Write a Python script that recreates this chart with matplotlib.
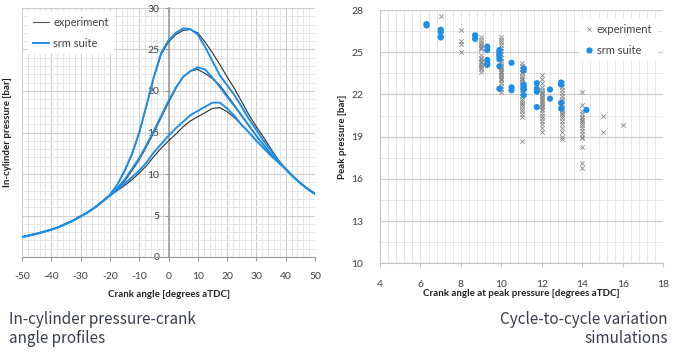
import matplotlib
matplotlib.use("Agg")
import matplotlib.pyplot as plt
from matplotlib.lines import Line2D
import numpy as np

plt.rcParams['axes.unicode_minus'] = False
plt.rcParams['font.family'] = ['Lato', 'DejaVu Sans']

# ---------------- data: left panel (pressure traces) ----------------
crank_angle = [-50, -47.5, -45, -42.5, -40, -37.5, -35, -32.5, -30, -27.5, -25, -22.5, -20,
               -17.5, -15, -12.5, -10, -7.5, -5, -2.5, 0, 2.5, 5, 7.5, 10, 12.5, 15, 17.5,
               20, 22.5, 25, 27.5, 30, 32.5, 35, 37.5, 40, 42.5, 45, 47.5, 50]

pre = [2.4, 2.6, 2.8, 3.05, 3.3, 3.6, 4.0, 4.4, 4.9, 5.4, 6.0, 6.7]
post = [10.6, 9.7, 8.9, 8.2, 7.6]

exp_high = pre + [7.5, 8.7, 10.3, 12.3, 14.9, 18.2, 21.6, 24.4, 25.9, 26.8, 27.3, 27.4, 27.0,
                  25.9, 24.6, 23.2, 21.7, 20.3, 18.7, 17.1, 15.7, 14.4, 13.0, 11.7] + post
sim_high = pre + [7.5, 8.7, 10.4, 12.4, 15.0, 18.3, 21.7, 24.6, 26.1, 27.0, 27.55, 27.45, 26.8,
                  25.3, 23.6, 21.9, 20.7, 19.5, 18.1, 16.6, 15.3, 14.0, 12.8, 11.6] + post
exp_mid = pre + [7.4, 8.2, 9.1, 10.4, 11.7, 13.3, 15.0, 16.8, 18.6, 20.3, 21.7, 22.4, 22.6,
                 22.1, 21.5, 20.7, 19.5, 18.3, 17.0, 15.8, 14.6, 13.5, 12.4, 11.5] + post
sim_mid = pre + [7.4, 8.3, 9.3, 10.6, 11.9, 13.5, 15.2, 17.0, 18.8, 20.4, 21.7, 22.4, 22.85,
                 22.6, 21.6, 20.5, 19.3, 18.2, 17.0, 15.8, 14.6, 13.5, 12.4, 11.5] + post
exp_low = pre + [7.4, 8.0, 8.6, 9.3, 10.1, 11.0, 12.1, 13.1, 14.0, 14.8, 15.7, 16.4, 16.9,
                 17.4, 17.9, 18.0, 17.5, 16.8, 15.9, 15.0, 14.0, 13.1, 12.2, 11.4] + post
sim_low = pre + [7.4, 8.1, 8.8, 9.6, 10.4, 11.4, 12.6, 13.6, 14.6, 15.5, 16.3, 17.1, 17.6,
                 18.1, 18.6, 18.6, 17.9, 17.0, 15.9, 15.0, 14.0, 13.1, 12.2, 11.4] + post

# ---------------- data: right panel (peak pressure scatter) ----------------
exp_cols = [7, 8, 9, 10, 11, 12, 13, 14, 15, 16]
exp_peaks = [
    [27.6, 26.3],
    [26.6, 25.8, 25.6, 25.0],
    [26.1, 25.9, 25.7, 25.6, 25.5, 25.4, 25.3, 25.2, 24.8, 24.6, 24.5, 24.4, 24.3, 24.2,
     24.1, 24.0, 23.9, 23.8, 23.6],
    [26.1, 25.9, 25.7, 25.5, 25.3, 25.1, 24.9, 24.6, 24.4, 24.2, 24.0, 23.9, 23.8, 23.7,
     23.6, 23.5, 23.4, 23.3, 23.2, 23.1, 23.0, 22.8, 22.6, 22.4, 22.2],
    [24.2, 24.0, 23.8, 23.6, 23.5, 23.3, 23.2, 23.1, 23.0, 22.9, 22.7, 22.5, 22.3, 22.1,
     21.9, 21.7, 21.5, 21.4, 21.3, 21.2, 21.0, 20.8, 20.6, 20.4, 18.7],
    [23.4, 23.1, 22.8, 22.5, 22.3, 22.2, 22.1, 22.0, 21.9, 21.8, 21.7, 21.6, 21.5, 21.4,
     21.3, 21.2, 21.1, 21.0, 20.9, 20.7, 20.5, 20.3, 20.1, 19.9, 19.6, 19.3],
    [22.8, 22.5, 22.3, 22.1, 21.9, 21.7, 21.5, 21.3, 21.1, 21.0, 20.9, 20.8, 20.7, 20.6,
     20.5, 20.3, 20.1, 19.9, 19.6, 19.3, 19.0, 18.8],
    [22.2, 21.25, 20.8, 20.6, 20.4, 20.3, 20.2, 20.1, 20.0, 19.8, 19.6, 19.4, 19.2, 19.0,
     18.9, 18.3, 17.1, 16.75],
    [20.5, 19.3],
    [19.8],
]

sim_angle = [6.3, 6.3, 7.0, 7.0, 7.0, 7.0, 8.7, 8.7, 9.3, 9.3, 9.3, 9.3, 9.3,
             9.9, 9.9, 9.9, 9.9, 9.9, 9.9, 9.9, 10.5, 10.5, 10.5,
             11.1, 11.1, 11.1, 11.1, 11.1, 11.1, 11.1, 11.75, 11.75, 11.75, 11.75,
             12.4, 12.4, 12.95, 12.95, 12.95, 12.95, 14.2]
sim_peak = [26.9, 27.0, 26.6, 26.45, 26.1, 26.05, 26.2, 25.95, 25.4, 25.15, 24.45, 24.2, 24.1,
            25.15, 25.0, 24.85, 24.7, 24.5, 24.0, 22.4, 24.25, 22.5, 22.3,
            23.85, 23.7, 22.7, 22.55, 22.4, 22.35, 21.95, 22.8, 22.4, 22.2, 21.1,
            22.35, 21.7, 22.85, 22.7, 21.4, 21.0, 20.9]

# ---------------- styles ----------------
BLUE = '#1f8fe6'
DARK = '#2e2e2e'
TXT = '#404040'
GRID_MIN = '#e6e6e6'
GRID_MAJ = '#cdcdcd'

fig = plt.figure(figsize=(6.8, 3.57), dpi=100)

# ================= left panel =================
ax1 = fig.add_axes([22/680, 1-257/357, 293/680, 249/357])
ax1.set_xlim(-50, 50)
ax1.set_ylim(0, 30)
for v in np.arange(-50, 51, 2):
    ax1.axvline(v, color=GRID_MIN, lw=0.7, zorder=0)
for v in np.arange(-50, 51, 10):
    ax1.axvline(v, color=GRID_MAJ, lw=0.8, zorder=0)
for v in np.arange(0, 31, 1):
    ax1.axhline(v, color=GRID_MIN, lw=0.7, zorder=0)
for v in np.arange(0, 31, 5):
    ax1.axhline(v, color=GRID_MAJ, lw=0.8, zorder=0)

for e, s in [(exp_high, sim_high), (exp_mid, sim_mid), (exp_low, sim_low)]:
    ax1.plot(crank_angle, e, color=DARK, lw=0.8, zorder=3)
    ax1.plot(crank_angle, s, color=BLUE, lw=1.4, zorder=4)

ax1.spines['top'].set_visible(False)
ax1.spines['right'].set_visible(False)
ax1.spines['left'].set_position(('data', 0))
ax1.spines['left'].set_color('#9a9a9a')
ax1.spines['left'].set_linewidth(1.2)
ax1.spines['bottom'].set_color('#9a9a9a')
ax1.set_xticks(np.arange(-50, 51, 10))
ax1.set_yticks(np.arange(0, 31, 5))
ax1.tick_params(axis='both', colors='#9a9a9a', labelcolor=TXT, labelsize=7.5,
                length=3, width=0.8, direction='out')
ax1.tick_params(axis='x', pad=8)
ax1.set_xlabel('Crank angle [degrees aTDC]', fontsize=7, fontweight='bold',
               color='#202020', labelpad=6)
ax1.set_ylabel('In-cylinder pressure [bar]', fontsize=7, fontweight='bold',
               color='#202020')
ax1.yaxis.set_label_coords(-0.035, 0.5, transform=ax1.transAxes)

h1 = [Line2D([], [], color='#555555', lw=0.8), Line2D([], [], color=BLUE, lw=1.4)]
leg1 = ax1.legend(h1, ['experiment', 'srm suite'], loc='upper left',
                  bbox_to_anchor=(0.0, 1.01), fontsize=8, frameon=True,
                  fancybox=False, edgecolor='none', facecolor='white', framealpha=1,
                  handlelength=1.4, labelspacing=0.9, borderpad=0.5, handletextpad=0.4)
for t in leg1.get_texts():
    t.set_color(TXT)
leg1.set_zorder(5)

# ================= right panel =================
ax2 = fig.add_axes([380/680, 1-263.3/357, 283.3/680, 253.3/357])
ax2.set_xlim(4, 18)
ax2.set_ylim(10, 28)
for v in np.arange(4, 18.01, 0.4):
    ax2.axvline(v, color=GRID_MIN, lw=0.7, zorder=0)
for v in np.arange(10, 28.01, 1.5):
    ax2.axhline(v, color=GRID_MIN, lw=0.7, zorder=0)
for v in np.arange(10, 28.01, 3):
    ax2.axhline(v, color=GRID_MAJ, lw=0.9, zorder=0)

ex = []
ey = []
for c, vals in zip(exp_cols, exp_peaks):
    ex += [c] * len(vals)
    ey += vals
ax2.scatter(ex, ey, marker='x', s=10, color='#8a8a8a', linewidths=0.6, zorder=3)
ax2.scatter(sim_angle, sim_peak, marker='o', s=20, color=BLUE, edgecolors='none', zorder=4)

ax2.spines['top'].set_visible(False)
ax2.spines['right'].set_visible(False)
ax2.spines['left'].set_color('#c4c4c4')
ax2.spines['bottom'].set_color('#c4c4c4')
ax2.set_xticks(np.arange(4, 19, 2))
ax2.set_yticks(np.arange(10, 29, 3))
ax2.tick_params(axis='both', colors='#c4c4c4', labelcolor=TXT, labelsize=7.5,
                length=3, width=0.8, direction='out')
ax2.tick_params(axis='y', length=0, pad=12)
ax2.tick_params(axis='x', pad=9)
ax2.set_xlabel('Crank angle at peak pressure [degrees aTDC]', fontsize=7,
               fontweight='bold', color='#202020', labelpad=0)
ax2.set_ylabel('Peak pressure [bar]', fontsize=7, fontweight='bold', color='#202020',
               labelpad=3)

h2 = [Line2D([], [], marker='x', ls='none', color='#8a8a8a', markersize=3.5, mew=0.6),
      Line2D([], [], marker='o', ls='none', color=BLUE, markersize=4.5, mew=0)]
leg2 = ax2.legend(h2, ['experiment', 'srm suite'], loc='upper right',
                  bbox_to_anchor=(1.0, 0.99), fontsize=8, frameon=True,
                  fancybox=False, edgecolor='none', facecolor='white', framealpha=1,
                  handlelength=0.8, labelspacing=0.9, borderpad=0.5, handletextpad=0.3)
for t in leg2.get_texts():
    t.set_color(TXT)
leg2.set_zorder(5)

# ================= captions =================
CAP = '#3c3c4c'
cap_font = ['Noto Sans CJK KR', 'DejaVu Sans']
fig.text(9/680, 1-329/357, 'In-cylinder pressure-crank\nangle profiles', ha='left',
         va='center', fontsize=11, color=CAP, family=cap_font, linespacing=1.1,
         fontweight='light')
fig.text(668/680, 1-329/357, 'Cycle-to-cycle variation\nsimulations', ha='right',
         va='center', fontsize=11, color=CAP, family=cap_font, linespacing=1.1,
         fontweight='light', multialignment='right')

fig.savefig('out.png', dpi=100)
